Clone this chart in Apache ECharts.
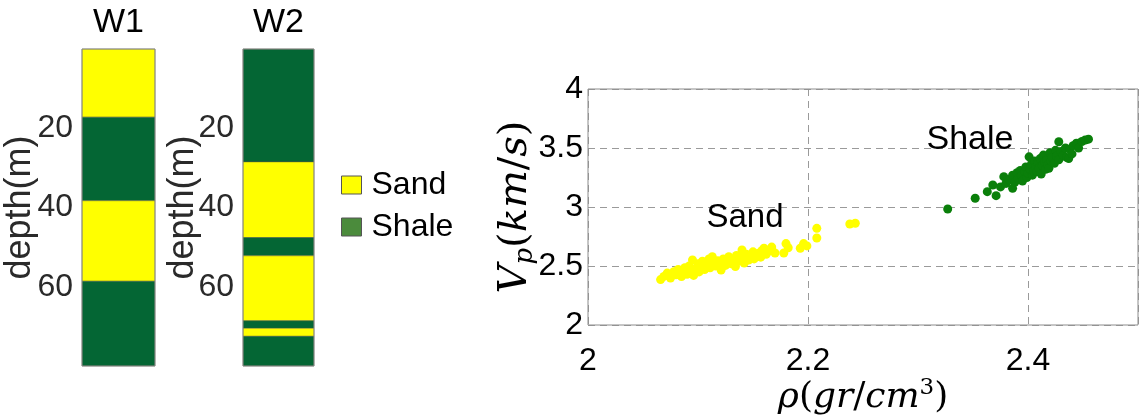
<!DOCTYPE html>
<html>
<head>
<meta charset="utf-8">
<script src="https://cdn.jsdelivr.net/npm/echarts@6/dist/echarts.min.js"></script>
<style>
  html, body { margin: 0; padding: 0; background: #fff; }
  #chart { width: 1139px; height: 416px; }
</style>
</head>
<body>
<div id="chart"></div>
<script>
// Well logs: top depth (m) of each layer and its facies; the last layer runs to totalDepth
const totalDepth = 80;
const w1Tops = [0, 17.2, 38.3, 58.6];
const w1Facies = ['Sand', 'Shale', 'Sand', 'Shale'];
const w2Tops = [0, 28.5, 47.6, 52.2, 68.6, 70.5, 72.5];
const w2Facies = ['Shale', 'Sand', 'Shale', 'Sand', 'Shale', 'Sand', 'Shale'];
const wellNames = ['W1', 'W2'];

// Density (gr/cm3) vs P-wave velocity (km/s) cross-plot
const sandPoints = [
  [2.066, 2.385], [2.069, 2.412], [2.072, 2.440], [2.075, 2.398], [2.078, 2.452],
  [2.080, 2.425], [2.082, 2.470], [2.085, 2.410], [2.086, 2.445], [2.088, 2.485],
  [2.090, 2.430], [2.092, 2.500], [2.093, 2.462], [2.095, 2.551], [2.096, 2.420],
  [2.098, 2.478], [2.100, 2.520], [2.101, 2.450], [2.103, 2.495], [2.104, 2.540],
  [2.106, 2.470], [2.108, 2.510], [2.110, 2.560], [2.111, 2.485], [2.113, 2.579],
  [2.114, 2.530], [2.116, 2.500], [2.118, 2.545], [2.120, 2.520], [2.121, 2.466],
  [2.123, 2.560], [2.125, 2.505], [2.127, 2.540], [2.128, 2.579], [2.130, 2.520],
  [2.132, 2.555], [2.134, 2.495], [2.135, 2.590], [2.137, 2.540], [2.139, 2.570],
  [2.140, 2.636], [2.142, 2.525], [2.144, 2.600], [2.146, 2.551], [2.148, 2.585],
  [2.150, 2.620], [2.151, 2.560], [2.153, 2.600], [2.155, 2.607], [2.157, 2.575],
  [2.158, 2.630], [2.160, 2.650], [2.162, 2.600], [2.164, 2.625], [2.167, 2.636],
  [2.167, 2.660], [2.170, 2.610], [2.178, 2.610], [2.180, 2.690], [2.182, 2.655],
  [2.193, 2.650], [2.196, 2.690], [2.199, 2.670], [2.208, 2.737], [2.208, 2.819],
  [2.238, 2.856], [2.243, 2.862]
];
const shalePoints = [
  [2.327, 2.983], [2.352, 3.074], [2.363, 3.130], [2.368, 3.186], [2.371, 3.096],
  [2.375, 3.170], [2.378, 3.257], [2.380, 3.200], [2.383, 3.230], [2.386, 3.158],
  [2.386, 3.270], [2.388, 3.210], [2.390, 3.290], [2.391, 3.240], [2.393, 3.310],
  [2.394, 3.265], [2.395, 3.220], [2.397, 3.300], [2.398, 3.340], [2.399, 3.250],
  [2.400, 3.285], [2.401, 3.425], [2.402, 3.320], [2.403, 3.360], [2.404, 3.270],
  [2.405, 3.305], [2.406, 3.390], [2.407, 3.340], [2.408, 3.300], [2.409, 3.370],
  [2.410, 3.330], [2.411, 3.410], [2.412, 3.280], [2.413, 3.350], [2.414, 3.440],
  [2.415, 3.380], [2.416, 3.320], [2.417, 3.400], [2.418, 3.355], [2.419, 3.328],
  [2.420, 3.460], [2.421, 3.390], [2.422, 3.420], [2.424, 3.370], [2.425, 3.480],
  [2.426, 3.430], [2.428, 3.553], [2.428, 3.400], [2.430, 3.470], [2.432, 3.440],
  [2.434, 3.500], [2.435, 3.420], [2.437, 3.410], [2.438, 3.490], [2.440, 3.450],
  [2.441, 3.520], [2.444, 3.540], [2.446, 3.500], [2.449, 3.555], [2.452, 3.568],
  [2.455, 3.575]
];
const clusterLabels = ['Sand', 'Shale'];

const SANS = '"Liberation Sans", Arial, sans-serif';
const SERIF = '"DejaVu Serif", serif';
const faciesColor = { Sand: '#ffff00', Shale: '#046634' };

// Turn layer tops into [x, top, bottom, faciesIndex] rows
function layerRows(tops) {
  return tops.map((t, i) => [0, t, i + 1 < tops.length ? tops[i + 1] : totalDepth, i]);
}

function renderLayer(facies) {
  return function (params, api) {
    const top = api.coord([0, api.value(1)]);
    const bottom = api.coord([0, api.value(2)]);
    const bandW = api.size([1, 0])[0];
    return {
      type: 'rect',
      shape: { x: top[0] - bandW / 2, y: top[1], width: bandW, height: bottom[1] - top[1] },
      style: {
        fill: faciesColor[facies[api.value(3)]],
        stroke: 'rgba(90,90,60,0.55)',
        lineWidth: 0.8
      }
    };
  };
}

const frame = { show: true, borderColor: '#8c8c8c', borderWidth: 1, backgroundColor: 'transparent', z: 3, outerBoundsMode: 'none', containLabel: false };
const wellGrids = [
  Object.assign({ left: 82, top: 49, width: 73, height: 317 }, frame),
  Object.assign({ left: 243, top: 49, width: 71, height: 317 }, frame)
];
const crossGrid = Object.assign({ left: 588, top: 89, width: 550, height: 236 }, frame);

function wellXAxis(i) {
  return {
    gridIndex: i, type: 'category', data: [wellNames[i]], position: 'top',
    name: wellNames[i], nameLocation: 'middle', nameGap: 9, nameMoveOverlap: false,
    nameTextStyle: { fontSize: 34, color: '#000', fontFamily: SANS },
    axisLine: { show: false }, axisTick: { show: false }, splitLine: { show: false },
    axisLabel: { show: false }
  };
}
function wellYAxis(i, gap) {
  return {
    gridIndex: i, type: 'value', inverse: true, min: 0, max: totalDepth, interval: 20,
    name: 'depth(m)', nameLocation: 'middle', nameRotate: 90, nameGap: gap, nameMoveOverlap: false,
    nameTextStyle: { fontSize: 36, color: '#2a2a2a', fontFamily: SANS },
    axisLine: { show: false },
    axisTick: { show: true, inside: true, length: 3, lineStyle: { color: '#777' } },
    splitLine: { show: false },
    axisLabel: {
      fontSize: 32, color: '#2a2a2a', fontFamily: SANS, margin: 9,
      showMinLabel: false, showMaxLabel: false
    }
  };
}

const chart = echarts.init(document.getElementById('chart'), null, { renderer: 'canvas' });

chart.setOption({
  animation: false,
  backgroundColor: '#fff',
  grid: [wellGrids[0], wellGrids[1], crossGrid],
  legend: {
    orient: 'vertical', left: 336, top: 164, itemWidth: 20, itemHeight: 18, itemGap: 10,
    icon: 'rect', selectedMode: false,
    textStyle: { fontSize: 32, color: '#000', fontFamily: SANS, padding: [0, 0, 0, 5] },
    data: [
      { name: 'Sand', itemStyle: { color: '#ffff00', borderColor: '#555', borderWidth: 1 } },
      { name: 'Shale', itemStyle: { color: '#4b8b3c', borderColor: '#555', borderWidth: 1 } }
    ]
  },
  xAxis: [
    wellXAxis(0),
    wellXAxis(1),
    {
      gridIndex: 2, type: 'value', min: 2, max: 2.5, interval: 0.2,
      name: '{i|ρ}{u|(}{i|gr}{u|/}{i|cm}{sup|3}{u|)}', nameLocation: 'middle', nameGap: 52, nameMoveOverlap: false,
      nameTextStyle: {
        rich: {
          i: { fontSize: 36, fontStyle: 'italic', fontFamily: SERIF, color: '#000', lineHeight: 42 },
          u: { fontSize: 36, fontFamily: SERIF, color: '#000', lineHeight: 42 },
          sup: { fontSize: 23, fontFamily: SERIF, color: '#000', lineHeight: 28, verticalAlign: 'top' }
        }
      },
      axisLine: { show: false }, axisTick: { show: false },
      splitLine: { show: true, lineStyle: { color: '#9a9a9a', type: [7, 5], width: 1 } },
      axisLabel: { fontSize: 32, color: '#000', fontFamily: SANS, margin: 20, showMaxLabel: false }
    }
  ],
  yAxis: [
    wellYAxis(0, 44),
    wellYAxis(1, 42),
    {
      gridIndex: 2, type: 'value', min: 2, max: 4, interval: 0.5,
      name: '{i|V}{sub|p}{u|(}{i|km}{u|/}{i|s}{u|)}', nameLocation: 'middle', nameRotate: 90, nameGap: 50, nameMoveOverlap: false,
      nameTextStyle: {
        rich: {
          i: { fontSize: 40, fontStyle: 'italic', fontFamily: SERIF, color: '#000', lineHeight: 44 },
          u: { fontSize: 40, fontFamily: SERIF, color: '#000', lineHeight: 44 },
          sub: { fontSize: 26, fontStyle: 'italic', fontFamily: SERIF, color: '#000', lineHeight: 29, verticalAlign: 'bottom' }
        }
      },
      axisLine: { show: false }, axisTick: { show: false },
      splitLine: { show: true, lineStyle: { color: '#9a9a9a', type: [7, 5], width: 1 } },
      axisLabel: { fontSize: 32, color: '#000', fontFamily: SANS, margin: 5 }
    }
  ],
  series: [
    {
      type: 'custom', name: wellNames[0], xAxisIndex: 0, yAxisIndex: 0, z: 1,
      encode: { x: 0, y: [1, 2] },
      renderItem: renderLayer(w1Facies),
      data: layerRows(w1Tops)
    },
    {
      type: 'custom', name: wellNames[1], xAxisIndex: 1, yAxisIndex: 1, z: 1,
      encode: { x: 0, y: [1, 2] },
      renderItem: renderLayer(w2Facies),
      data: layerRows(w2Tops)
    },
    {
      type: 'scatter', name: 'Sand', xAxisIndex: 2, yAxisIndex: 2,
      symbolSize: 9, itemStyle: { color: '#ffff00', opacity: 1 },
      data: sandPoints
    },
    {
      type: 'scatter', name: 'Shale', xAxisIndex: 2, yAxisIndex: 2,
      symbolSize: 9, itemStyle: { color: '#0a7f0a', opacity: 1 },
      data: shalePoints
    }
  ],
  graphic: [
    { type: 'text', x: 745, y: 218, z: 10,
      style: { text: clusterLabels[0], fill: '#000', font: '33px ' + SANS, textAlign: 'center', textVerticalAlign: 'middle', align: 'center', verticalAlign: 'middle' } },
    { type: 'text', x: 970, y: 140, z: 10,
      style: { text: clusterLabels[1], fill: '#000', font: '34px ' + SANS, textAlign: 'center', textVerticalAlign: 'middle', align: 'center', verticalAlign: 'middle' } }
  ]
});
</script>
</body>
</html>
